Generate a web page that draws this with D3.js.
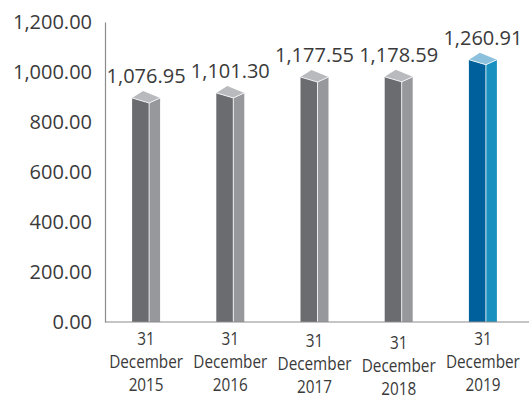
<!DOCTYPE html>
<html>
<head>
<meta charset="utf-8">
<script src="https://cdn.jsdelivr.net/npm/d3@7"></script>
<style>
  body { margin: 0; background: #fff; }
  svg { display: block; }
  .num { font-family: "Open Sans", "Noto Sans", sans-serif; font-size: 20px; fill: #3a3a3a; }
  .cat { font-family: "Open Sans", "Noto Sans", sans-serif; font-size: 18px; fill: #3a3a3a; }
</style>
</head>
<body>
<div id="chart"></div>
<script>
const categories = ["31 December 2015", "31 December 2016", "31 December 2017", "31 December 2018", "31 December 2019"];
const values = [1076.95, 1101.30, 1177.55, 1178.59, 1260.91];
const yTicks = [0, 200, 400, 600, 800, 1000, 1200];

const width = 529, height = 399;
const baseY = 322, topY = 22, axisX = 105;

const svg = d3.select("#chart").append("svg")
  .attr("width", width)
  .attr("height", height);

const x = d3.scaleBand().domain(categories).range([104, 525]);
const y = d3.scaleLinear().domain([0, 1200]).range([baseY, topY]);
// bars sit in front of the back wall, so they project a bit lower
const yBar = d3.scaleLinear().domain([0, 1200]).range([baseY, baseY - 1200 * 0.208]);

// y axis
const yAxis = svg.append("g")
  .attr("transform", `translate(${axisX},0)`)
  .call(d3.axisLeft(y).tickValues(yTicks).tickSize(0).tickPadding(13).tickFormat(d3.format(",.2f")));
yAxis.attr("font-size", null).attr("font-family", null);
yAxis.select(".domain").attr("stroke", "#8c8c8c").attr("stroke-width", 1.2);
yAxis.selectAll("text").attr("class", "num").attr("fill", null);

const frontW = 17, sideW = 11, slope = 5, topRise = 7;
const palette = [
  { front: "#6b6c70", side: "#97989c", top: "#b9babd" },
  { front: "#6b6c70", side: "#97989c", top: "#b9babd" },
  { front: "#6b6c70", side: "#97989c", top: "#b9babd" },
  { front: "#6b6c70", side: "#97989c", top: "#b9babd" },
  { front: "#00609c", side: "#1a90c0", top: "#8cc1dd" }
];

const bars = svg.append("g").selectAll("g")
  .data(categories.map((c, i) => ({ cat: c, value: values[i], i })))
  .join("g");

bars.each(function (d) {
  const g = d3.select(this);
  const x0 = x(d.cat) + x.bandwidth() / 2 - (frontW + sideW) / 2;
  const yt = yBar(d.value);
  const col = palette[d.i];
  g.append("path")
    .attr("d", `M${x0},${baseY} L${x0},${yt} L${x0 + frontW},${yt + slope} L${x0 + frontW},${baseY} Z`)
    .attr("fill", col.front);
  g.append("path")
    .attr("d", `M${x0 + frontW},${baseY} L${x0 + frontW},${yt + slope} L${x0 + frontW + sideW},${yt} L${x0 + frontW + sideW},${baseY} Z`)
    .attr("fill", col.side);
  g.append("path")
    .attr("d", `M${x0},${yt} L${x0 + frontW},${yt + slope} L${x0 + frontW + sideW},${yt} L${x0 + sideW},${yt - topRise} Z`)
    .attr("fill", col.top);
  g.append("path")
    .attr("d", `M${x0},${yt} L${x0 + frontW},${yt + slope} L${x0 + frontW + sideW},${yt} M${x0 + frontW},${yt + slope} L${x0 + frontW},${baseY}`)
    .attr("fill", "none")
    .attr("stroke", "#fff")
    .attr("stroke-width", 0.8);
  g.append("text")
    .attr("class", "num")
    .attr("x", x(d.cat) + x.bandwidth() / 2)
    .attr("y", yt - 15)
    .attr("text-anchor", "middle")
    .text(d3.format(",.2f")(d.value));
});

// x axis line
svg.append("line")
  .attr("x1", axisX).attr("x2", width)
  .attr("y1", baseY).attr("y2", baseY)
  .attr("stroke", "#8c8c8c").attr("stroke-width", 1.2);

// category labels (three lines, condensed)
const labelShift = [0, 0, 2, 4, 0];
const catLabels = svg.append("g").selectAll("text")
  .data(categories)
  .join("text")
  .attr("class", "cat")
  .attr("text-anchor", "middle")
  .attr("transform", (d, i) => `translate(${x(d) + x.bandwidth() / 2},${345 + labelShift[i]}) scale(0.85,1)`);
catLabels.each(function (d) {
  const parts = d.split(" ");
  d3.select(this).selectAll("tspan")
    .data(parts)
    .join("tspan")
    .attr("x", 0)
    .attr("dy", (p, j) => j === 0 ? 0 : 23)
    .text(p => p);
});
</script>
</body>
</html>
